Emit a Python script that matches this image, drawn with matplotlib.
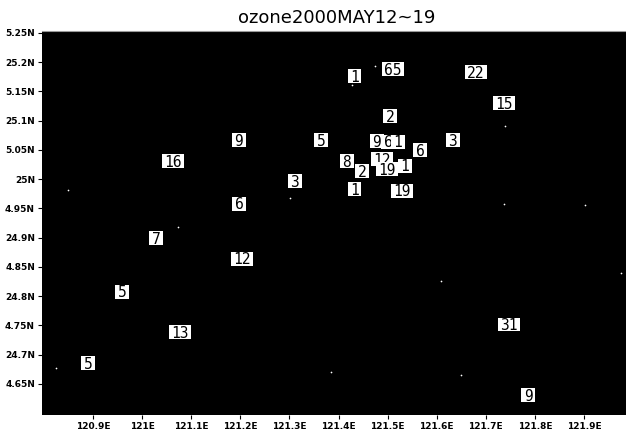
import matplotlib.pyplot as plt
from matplotlib.path import Path

# station ozone values (lon, lat, label)
lons = [121.432, 121.511, 121.680, 121.737, 121.505, 121.364, 121.478, 121.501,
        121.521, 121.566, 121.633, 121.417, 121.448, 121.489, 121.499, 121.535,
        121.432, 121.529, 121.197, 121.063, 121.311, 121.197, 121.028, 121.203,
        120.959, 121.077, 120.890, 121.747, 121.786]
lats = [25.174, 25.186, 25.181, 25.128, 25.106, 25.065, 25.063, 25.062,
        25.062, 25.048, 25.065, 25.029, 25.012, 25.032, 25.015, 25.021,
        24.981, 24.978, 25.065, 25.029, 24.995, 24.956, 24.897, 24.862,
        24.806, 24.737, 24.684, 24.750, 24.629]
values = ["1", "65", "22", "15", "2", "5", "9", "6",
          "1", "6", "3", "8", "2", "12", "19", "1",
          "1", "19", "9", "16", "3", "6", "7", "12",
          "5", "13", "5", "31", "9"]

# stations without data
empty_lons = [121.474, 120.848, 121.301, 121.074, 120.825, 121.427, 121.499,
              121.740, 121.736, 121.903, 121.609, 121.385, 121.650, 121.975]
empty_lats = [25.194, 24.981, 24.968, 24.919, 24.678, 25.161, 25.099,
              25.091, 24.958, 24.956, 24.826, 24.671, 24.666, 24.839]

xticks = [120.9, 121.0, 121.1, 121.2, 121.3, 121.4, 121.5, 121.6, 121.7, 121.8, 121.9]
xlabels = ["120.9E", "121E", "121.1E", "121.2E", "121.3E", "121.4E",
           "121.5E", "121.6E", "121.7E", "121.8E", "121.9E"]
yticks = [25.25, 25.2, 25.15, 25.1, 25.05, 25.0, 24.95, 24.9, 24.85, 24.8,
          24.75, 24.7, 24.65]
ylabels = ["5.25N", "25.2N", "5.15N", "25.1N", "5.05N", "25N", "4.95N",
           "24.9N", "4.85N", "24.8N", "4.75N", "24.7N", "4.65N"]


def label_box(x0, y0, width, height, mutation_size):
    # tight white box around the digits (no room for descenders)
    b = y0 + 0.11 * mutation_size
    t = y0 + height + 0.03 * mutation_size
    l = x0 - 0.16 * mutation_size
    r = x0 + width + 0.16 * mutation_size
    return Path([(l, b), (r, b), (r, t), (l, t), (l, b)], closed=True)


fig = plt.figure(figsize=(6.26, 4.34), dpi=100)
ax = fig.add_axes([42 / 626, 1 - 415 / 434, 1 - 42 / 626, 384 / 434])
ax.set_facecolor("black")
ax.set_xlim(120.796, 121.9855)
ax.set_ylim(24.597, 25.253)

ax.scatter(empty_lons, empty_lats, s=1.5, color="white", linewidths=0)

for x, y, v in zip(lons, lats, values):
    ax.text(x, y, v, ha="center", va="center", fontsize=10.5,
            family="DejaVu Sans Mono", color="black",
            bbox=dict(boxstyle=label_box, fc="white", ec="none"))

ax.set_xticks(xticks)
ax.set_xticklabels(xlabels, fontsize=6.5, fontweight="bold")
ax.set_yticks(yticks)
ax.set_yticklabels(ylabels, fontsize=6.5, fontweight="bold")
ax.tick_params(length=3, width=0.8, pad=2)
for s in ax.spines.values():
    s.set_visible(False)
ax.spines["top"].set_visible(True)
ax.spines["top"].set_color("#9a9a9a")
ax.spines["top"].set_linewidth(0.8)

fig.text(0.538, 0.9585, "ozone2000MAY12~19", ha="center", va="center", fontsize=13)

fig.savefig("out.png", dpi=100)
